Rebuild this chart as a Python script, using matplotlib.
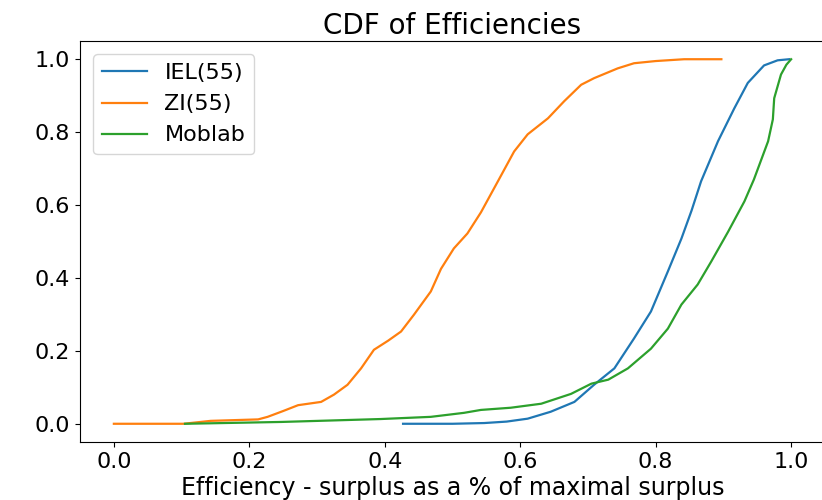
import matplotlib

matplotlib.use("Agg")
import matplotlib.pyplot as plt

# CDF curves (efficiency, cumulative share)
iel_x = [0.427, 0.50, 0.547, 0.58, 0.611, 0.645, 0.68, 0.709, 0.739, 0.768, 0.793,
         0.818, 0.838, 0.853, 0.867, 0.892, 0.916, 0.936, 0.96, 0.98, 0.997]
iel_y = [0.0, 0.0, 0.002, 0.006, 0.014, 0.033, 0.06, 0.107, 0.152, 0.234, 0.308,
         0.418, 0.508, 0.585, 0.665, 0.775, 0.865, 0.935, 0.983, 0.997, 1.0]

zi_x = [0.0, 0.103, 0.143, 0.213, 0.227, 0.25, 0.272, 0.306, 0.325, 0.345, 0.365,
        0.384, 0.405, 0.424, 0.443, 0.468, 0.483, 0.502, 0.522, 0.542, 0.567,
        0.591, 0.611, 0.641, 0.665, 0.69, 0.709, 0.744, 0.768, 0.80, 0.842, 0.897]
zi_y = [0.0, 0.0, 0.008, 0.012, 0.019, 0.035, 0.051, 0.06, 0.08, 0.107, 0.152,
        0.203, 0.228, 0.253, 0.299, 0.363, 0.425, 0.481, 0.522, 0.58, 0.665,
        0.747, 0.794, 0.838, 0.885, 0.93, 0.948, 0.975, 0.989, 0.995, 1.0, 1.0]

moblab_x = [0.105, 0.247, 0.394, 0.468, 0.517, 0.542, 0.586, 0.631, 0.675, 0.705,
            0.73, 0.759, 0.793, 0.818, 0.838, 0.862, 0.882, 0.907, 0.931, 0.945,
            0.966, 0.973, 0.975, 0.985, 0.993, 1.0]
moblab_y = [0.0, 0.005, 0.013, 0.019, 0.03, 0.038, 0.044, 0.055, 0.082, 0.11,
            0.121, 0.152, 0.206, 0.261, 0.327, 0.382, 0.445, 0.527, 0.61, 0.67,
            0.775, 0.835, 0.893, 0.958, 0.985, 1.0]

x_ticks = [0.0, 0.2, 0.4, 0.6, 0.8, 1.0]
y_ticks = [0.0, 0.2, 0.4, 0.6, 0.8, 1.0]

fig = plt.figure(figsize=(8.22, 5.0), dpi=100)
ax = fig.add_axes([80 / 822, 58 / 500, 745 / 822, 401 / 500])

ax.plot(iel_x, iel_y, color="#1f77b4", lw=1.6, label="IEL(55)")
ax.plot(zi_x, zi_y, color="#ff7f0e", lw=1.6, label="ZI(55)")
ax.plot(moblab_x, moblab_y, color="#2ca02c", lw=1.6, label="Moblab")

ax.set_xlim(-0.05, 1.05)
ax.set_ylim(-0.05, 1.05)
ax.set_xticks(x_ticks)
ax.set_yticks(y_ticks)
ax.set_xticklabels([f"{v:.1f}" for v in x_ticks])
ax.set_yticklabels([f"{v:.1f}" for v in y_ticks])
ax.tick_params(labelsize=16)
# the reference is cropped just before the right-hand frame line
ax.spines["right"].set_visible(False)

ax.set_title("CDF of Efficiencies", fontsize=20, pad=5)
ax.set_xlabel("Efficiency - surplus as a % of maximal surplus", fontsize=17, labelpad=3)
ax.legend(loc="upper left", fontsize=16, borderaxespad=0.6)

fig.savefig("out.png", dpi=100)
plt.close(fig)
